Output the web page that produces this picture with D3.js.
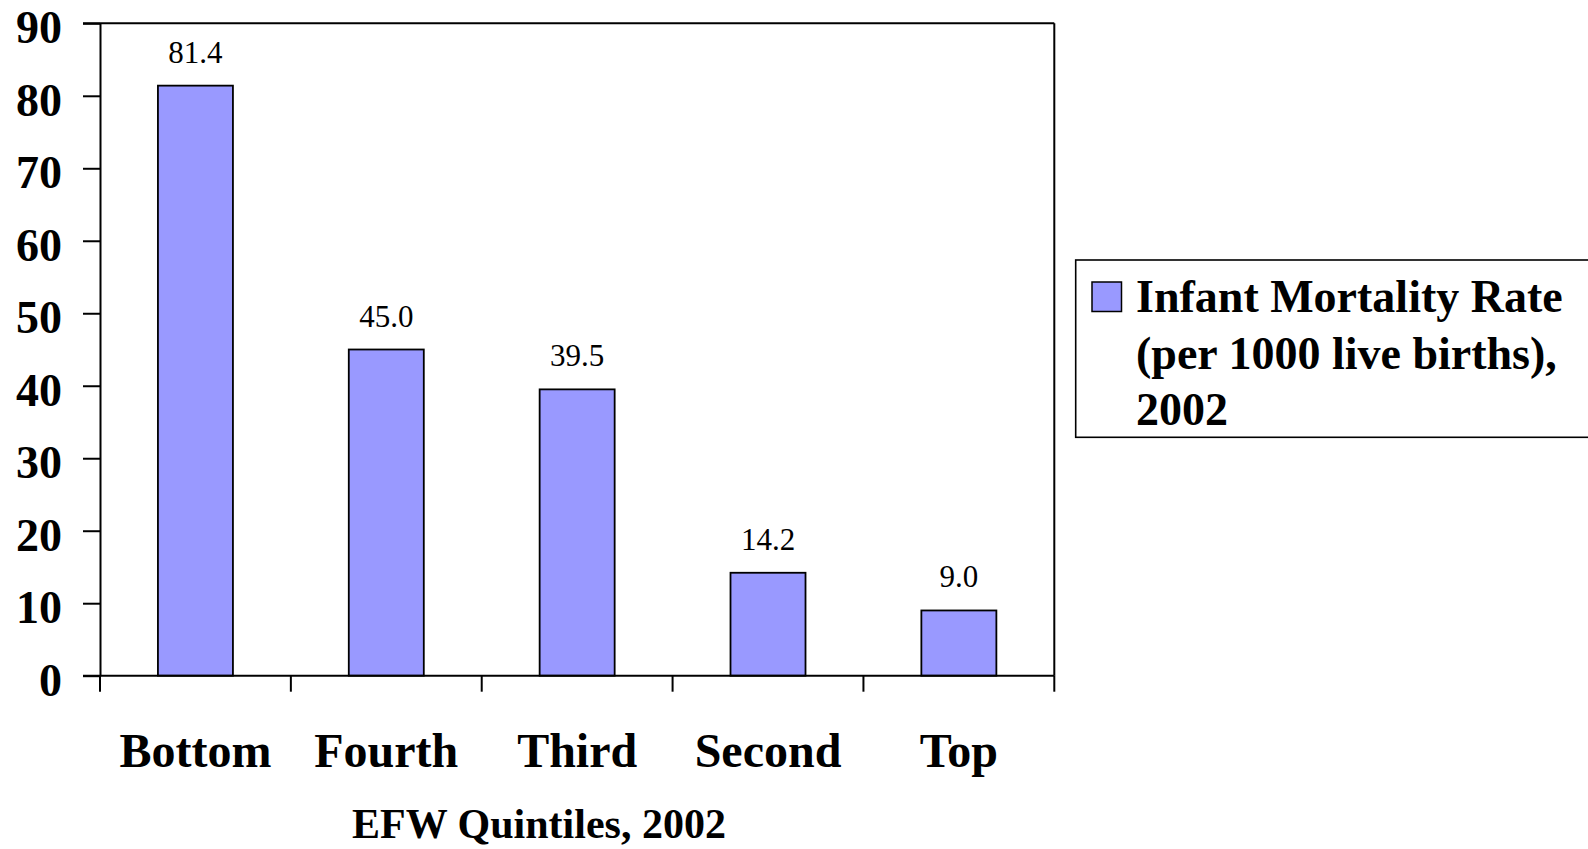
<!DOCTYPE html>
<html>
<head>
<meta charset="utf-8">
<script src="https://cdn.jsdelivr.net/npm/d3@7"></script>
<style>
  html, body { margin: 0; padding: 0; background: #fff; }
  svg { display: block; font-family: "Liberation Serif", "Times New Roman", serif; }
</style>
</head>
<body>
<svg id="chart" width="1588" height="849"></svg>
<script>
const categories = ["Bottom", "Fourth", "Third", "Second", "Top"];
const values = [81.4, 45.0, 39.5, 14.2, 9.0];
const yTicks = [0, 10, 20, 30, 40, 50, 60, 70, 80, 90];
const xTitle = "EFW Quintiles, 2002";
const legendLines = ["Infant Mortality Rate", "(per 1000 live births),", "2002"];

(function () {
const svg = d3.select("#chart");
const pLeft = 100, pRight = 1054.3, pTop = 23.3, pBottom = 675.7;

const x = d3.scaleBand().domain(categories).range([pLeft, pRight])
  .paddingInner(0.607).paddingOuter(0.3035);
const y = d3.scaleLinear().domain([0, 90]).range([pBottom, pTop]);

// Bars
svg.append("g").selectAll("rect").data(values).join("rect")
  .attr("x", (d, i) => x(categories[i]))
  .attr("y", d => y(d))
  .attr("width", x.bandwidth())
  .attr("height", d => y(0) - y(d))
  .attr("fill", "#9999FF")
  .attr("stroke", "#000")
  .attr("stroke-width", 1.8);

// Frame: top and right borders
svg.append("line").attr("x1", pLeft - 17).attr("x2", pRight).attr("y1", pTop).attr("y2", pTop)
  .attr("stroke", "#000").attr("stroke-width", 2);
svg.append("line").attr("x1", pRight).attr("x2", pRight).attr("y1", pTop).attr("y2", pBottom)
  .attr("stroke", "#000").attr("stroke-width", 2);

// Y axis
const yAxis = d3.axisLeft(y).tickValues(yTicks).tickSize(17).tickSizeOuter(0).tickPadding(21);
const gy = svg.append("g").attr("transform", `translate(${pLeft},0)`).call(yAxis);
gy.select(".domain").attr("stroke", "#000").attr("stroke-width", 2);
gy.selectAll(".tick line").attr("stroke", "#000").attr("stroke-width", 2);
gy.selectAll(".tick text")
  .attr("font-family", "Liberation Serif, Times New Roman, serif")
  .attr("font-size", 46).attr("font-weight", "bold").attr("fill", "#000")
  .attr("dy", "0.42em");

// X axis baseline
svg.append("line").attr("x1", pLeft - 17).attr("x2", pRight).attr("y1", pBottom).attr("y2", pBottom)
  .attr("stroke", "#000").attr("stroke-width", 2);

// Category boundary ticks
const step = x.step();
const boundaries = d3.range(categories.length + 1).map(i => pLeft + i * step);
svg.append("g").selectAll("line").data(boundaries).join("line")
  .attr("x1", d => d).attr("x2", d => d)
  .attr("y1", pBottom).attr("y2", pBottom + 16)
  .attr("stroke", "#000").attr("stroke-width", 2);

// Category labels
svg.append("g").selectAll("text").data(categories).join("text")
  .attr("x", d => x(d) + x.bandwidth() / 2)
  .attr("y", 767)
  .attr("text-anchor", "middle")
  .attr("font-size", 48).attr("font-weight", "bold")
  .text(d => d);

// Value labels
svg.append("g").selectAll("text").data(values).join("text")
  .attr("x", (d, i) => x(categories[i]) + x.bandwidth() / 2)
  .attr("y", d => y(d) - 23)
  .attr("text-anchor", "middle")
  .attr("font-size", 31)
  .text(d => d.toFixed(1));

// Axis title
svg.append("text").attr("x", 539).attr("y", 838)
  .attr("text-anchor", "middle").attr("font-size", 42).attr("font-weight", "bold")
  .text(xTitle);

// Legend
const lg = svg.append("g");
lg.append("rect").attr("x", 1075.7).attr("y", 260).attr("width", 540).attr("height", 177.3)
  .attr("fill", "#fff").attr("stroke", "#000").attr("stroke-width", 1.6);
lg.append("rect").attr("x", 1092).attr("y", 282).attr("width", 29.5).attr("height", 29.5)
  .attr("fill", "#9999FF").attr("stroke", "#000").attr("stroke-width", 1.5);
lg.selectAll("text.leg").data(legendLines).join("text").attr("class", "leg")
  .attr("x", 1136).attr("y", (d, i) => 312 + i * 56.5)
  .attr("font-size", 46).attr("font-weight", "bold")
  .text(d => d);
})();
</script>
</body>
</html>
